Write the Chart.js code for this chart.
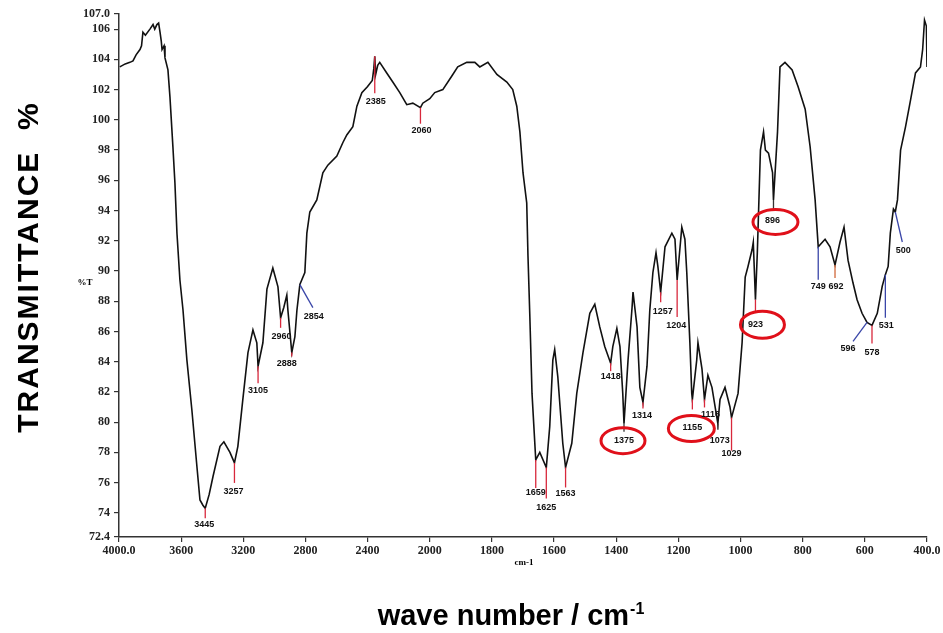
<!DOCTYPE html>
<html><head><meta charset="utf-8">
<script src="https://cdn.jsdelivr.net/npm/chart.js@4.4.1/dist/chart.umd.min.js"></script>
<style>html,body{margin:0;padding:0;background:#fff;}</style>
</head><body>
<canvas id="c" width="943" height="633"></canvas>
<script>
// ---- data ----
const wavenumbers = [3995,3960,3930,3910,3890,3865,3855,3846,3830,3801,3781,3770,3756,3745,3736,3728,3723,3710,3704,3685,3672,3653,3640,3627,3608,3588,3563,3531,3498,3479,3460,3445,3420,3395,3350,3325,3286,3257,3235,3203,3170,3138,3113,3105,3074,3048,3010,2977,2960,2939,2920,2913,2888,2868,2855,2836,2804,2791,2772,2727,2688,2656,2598,2559,2534,2495,2469,2437,2400,2370,2360,2354,2348,2335,2322,2277,2238,2193,2148,2109,2060,2045,2000,1984,1958,1929,1910,1881,1855,1839,1813,1784,1752,1733,1720,1710,1700,1688,1684,1678,1671,1659,1646,1625,1614,1604,1598,1588,1572,1563,1543,1527,1507,1485,1469,1453,1437,1418,1411,1398,1388,1379,1375,1362,1349,1346,1333,1324,1314,1301,1292,1282,1272,1266,1257,1243,1221,1211,1204,1189,1179,1173,1163,1157,1155,1141,1137,1124,1116,1105,1092,1073,1066,1050,1034,1029,1008,995,985,976,963,959,952,946,936,926,920,910,897,894,881,873,857,834,815,792,776,760,750,728,712,696,680,667,654,638,625,609,593,577,560,544,534,525,518,508,502,495,485,469,453,437,421,414,408,402,400];
const transmittance = [103.5,103.7,103.8,103.9,104.3,104.65,104.9,105.8,105.6,106.0,106.3,106.0,106.3,106.4,105.8,105.2,104.65,104.9,104.1,103.3,101.5,98.2,95.8,92.5,89.4,87.4,84.1,80.8,77.0,74.85,74.5,74.3,75.2,76.4,78.4,78.7,78.0,77.3,78.4,81.5,84.6,86.1,85.25,83.7,85.25,88.8,90.2,88.95,86.9,87.6,88.4,87.4,84.6,85.65,87.4,89.1,89.9,92.5,93.9,94.7,96.5,97.0,97.6,98.5,99.0,99.55,100.9,101.8,102.2,102.6,103.4,104.2,103.0,103.6,103.8,103.1,102.5,101.8,101.0,101.1,100.8,101.1,101.4,101.8,102.0,102.9,103.5,103.8,103.8,103.5,103.8,103.0,102.5,102.0,100.9,99.2,96.5,94.5,91.0,87.0,81.9,77.5,78.0,77.0,79.7,84.1,84.8,83.0,78.6,77.0,78.6,81.9,84.6,87.2,87.8,86.3,85.0,83.9,85.0,86.2,85.0,81.9,79.9,84.1,87.6,88.6,86.3,82.3,81.3,83.7,87.4,89.9,91.2,90.3,88.6,91.6,92.5,92.1,89.4,92.9,92.1,89.9,85.25,81.9,81.5,84.1,85.25,83.5,81.5,83.1,82.3,79.9,81.5,82.3,81.0,80.3,81.9,85.25,89.6,90.3,91.4,91.9,88.1,91.2,98.0,99.2,98.0,97.8,96.5,94.7,99.2,103.5,103.8,103.3,102.2,100.7,98.2,94.7,91.6,92.1,91.6,90.4,91.9,92.9,90.7,89.2,88.1,87.2,86.6,86.4,87.2,89.0,89.75,90.3,92.5,94.1,93.9,94.7,98.0,99.55,101.3,103.1,103.5,104.65,106.6,106.2,103.5];

const xTickValues = [4000,3600,3200,2800,2400,2000,1800,1600,1400,1200,1000,800,600,400];
const xTickLabels = ["4000.0","3600","3200","2800","2400","2000","1800","1600","1400","1200","1000","800","600","400.0"];
const yTickValues = [72.4,74,76,78,80,82,84,86,88,90,92,94,96,98,100,102,104,106,107];
const yTickLabels = ["72.4","74","76","78","80","82","84","86","88","90","92","94","96","98","100","102","104","106","107.0"];

const peakLabels = ["3445","3257","3105","2960","2888","2854","2385","2060","1659","1625","1563","1418","1375","1314","1257","1204","1155","1116","1073","1029","923","896","749","692","596","578","531","500"];
const peakW = [3445,3257,3105,2960,2888,2836,2354,2060,1659,1625,1563,1418,1375,1314,1257,1204,1155,1116,1073,1029,952,894,750,696,593,577,534,502];
const peakT = [74.3,77.3,83.7,86.9,84.6,89.1,104.2,100.8,77.5,77.0,77.0,83.9,79.9,81.3,88.6,89.4,81.5,81.5,79.9,80.3,88.1,94.7,91.6,90.4,86.6,86.4,89.75,93.9];

// ---- styling of peak marks (pixel offsets from the peak tip) ----
const RED = "#d8283c", BLUE = "#3a46a8", ORANGE = "#d0683a", DARK = "#333";
const peakStyle = [
  {lx:0,ly:10,tx:-1,ty:16,c:RED},
  {lx:0,ly:20,tx:-1,ty:29,c:RED},
  {lx:0,ly:17,tx:0,ty:24,c:RED},
  {lx:0,ly:10,tx:1,ty:19,c:RED},
  {lx:0,ly:4,tx:-5,ty:11,c:RED},
  {lx:13,ly:23,tx:14,ty:32,c:BLUE},
  {lx:0,ly:37,tx:1,ty:45,c:RED},
  {lx:0,ly:16,tx:1,ty:23,c:RED},
  {lx:0,ly:28,tx:0,ty:33,c:RED},
  {lx:0,ly:31,tx:0,ty:40,c:RED},
  {lx:0,ly:20,tx:0,ty:26,c:RED},
  {lx:0,ly:8,tx:0,ty:13,c:RED},
  {lx:0,ly:8,tx:0,ty:17,c:DARK,e:[-1,17,44,26]},
  {lx:0,ly:6,tx:-1,ty:13,c:RED},
  {lx:0,ly:10,tx:2,ty:19,c:RED},
  {lx:0,ly:37,tx:-1,ty:45,c:RED},
  {lx:0,ly:10,tx:0,ty:28,c:RED,e:[-1,29,46,26]},
  {lx:0,ly:8,tx:6,ty:15,c:RED},
  {lx:0,ly:6,tx:2,ty:17,c:DARK},
  {lx:0,ly:33,tx:0,ty:36,c:RED},
  {lx:0,ly:12,tx:0,ty:25,c:RED,e:[7,25,44,27]},
  {lx:0,ly:9,tx:-1,ty:21,c:DARK,e:[2,22,45,25]},
  {lx:0,ly:33,tx:0,ty:40,c:BLUE},
  {lx:0,ly:13,tx:1,ty:22,c:ORANGE},
  {lx:-14,ly:19,tx:-19,ty:26,c:BLUE},
  {lx:0,ly:18,tx:0,ty:27,c:RED},
  {lx:0,ly:43,tx:1,ty:51,c:BLUE},
  {lx:7,ly:30,tx:8,ty:39,c:BLUE}
];

// piecewise wavenumber axis: 4000-2000 compressed, 2000-400 at double scale
function toAxis(w){ return w >= 2000 ? (4000 - w) : 2000 + 2 * (2000 - w); }

const peakPlugin = {
  id: 'peaks',
  afterDatasetsDraw(chart){
    const ctx = chart.ctx, xs = chart.scales.x, ys = chart.scales.y;
    ctx.save();
    ctx.font = 'bold 9px "Liberation Sans"';
    ctx.textAlign = 'center';
    ctx.textBaseline = 'middle';
    peakLabels.forEach((lab, i) => {
      const s = peakStyle[i];
      const px = xs.getPixelForValue(toAxis(peakW[i]));
      const py = ys.getPixelForValue(peakT[i]);
      ctx.strokeStyle = s.c; ctx.lineWidth = 1.3;
      ctx.beginPath(); ctx.moveTo(px, py); ctx.lineTo(px + s.lx, py + s.ly); ctx.stroke();
      ctx.fillStyle = '#111';
      ctx.fillText(lab, px + s.tx, py + s.ty);
      if (s.e){
        ctx.strokeStyle = '#e0101a'; ctx.lineWidth = 3;
        ctx.beginPath();
        ctx.ellipse(px + s.e[0], py + s.e[1], s.e[2]/2, s.e[3]/2, 0, 0, Math.PI*2);
        ctx.stroke();
      }
    });
    ctx.restore();
  },
  afterDraw(chart){
    const ctx = chart.ctx, a = chart.chartArea;
    ctx.save();
    ctx.fillStyle = '#000';
    // y title
    ctx.save();
    ctx.translate(38, 267);
    ctx.rotate(-Math.PI/2);
    ctx.font = 'bold 30px "Liberation Sans"';
    try { ctx.letterSpacing = '2px'; } catch(e){}
    ctx.textAlign = 'center';
    ctx.textBaseline = 'alphabetic';
    ctx.fillText('TRANSMITTANCE  %', 0, 0);
    ctx.restore();
    // x title
    ctx.font = 'bold 29px "Liberation Sans"';
    ctx.textBaseline = 'alphabetic';
    ctx.textAlign = 'left';
    const main = 'wave number / cm', sup = '-1';
    const wMain = ctx.measureText(main).width;
    ctx.font = 'bold 16px "Liberation Sans"';
    const wSup = ctx.measureText(sup).width;
    const x0 = 511 - (wMain + wSup + 1)/2;
    ctx.font = 'bold 29px "Liberation Sans"';
    ctx.fillText(main, x0, 625);
    ctx.font = 'bold 16px "Liberation Sans"';
    ctx.fillText(sup, x0 + wMain + 1, 614);
    // small labels
    ctx.font = 'bold 9px "Liberation Serif"';
    ctx.textAlign = 'center';
    ctx.textBaseline = 'middle';
    ctx.fillText('%T', a.left - 34, 283);
    ctx.fillText('cm-1', 524, 563);
    ctx.restore();
  }
};

const tickFont = {family: '"Liberation Serif"', size: 12, weight: 'bold'};

new Chart(document.getElementById('c'), {
  type: 'line',
  data: {
    datasets: [{
      data: wavenumbers.map((w, i) => ({x: toAxis(w), y: transmittance[i]})),
      borderColor: '#111',
      borderWidth: 1.6,
      pointRadius: 0,
      tension: 0,
      fill: false
    }]
  },
  options: {
    responsive: false,
    animation: false,
    events: [],
    layout: {padding: {top: 14, right: 16, left: 0, bottom: 0}},
    plugins: {legend: {display: false}, tooltip: {enabled: false}},
    scales: {
      x: {
        type: 'linear', min: 0, max: 5200,
        afterBuildTicks: s => { s.ticks = xTickValues.map(w => ({value: toAxis(w)})); },
        afterFit: s => { s.height = 96; },
        ticks: {autoSkip: false, maxRotation: 0, minRotation: 0, padding: 2, color: '#222', font: tickFont,
                callback: (v, i) => xTickLabels[i]},
        grid: {display: true, drawOnChartArea: false, drawTicks: true, tickLength: 5, color: '#333', lineWidth: 1.2},
        border: {display: true, color: '#333', width: 1.5}
      },
      y: {
        type: 'linear', min: 72.4, max: 107,
        afterBuildTicks: s => { s.ticks = yTickValues.map(v => ({value: v})); },
        afterFit: s => { s.width = 119; },
        ticks: {autoSkip: false, padding: 4, color: '#222', font: tickFont,
                callback: (v, i) => yTickLabels[i]},
        grid: {display: true, drawOnChartArea: false, drawTicks: true, tickLength: 5, color: '#333', lineWidth: 1.2},
        border: {display: true, color: '#333', width: 1.5}
      }
    }
  },
  plugins: [peakPlugin]
});
</script>
</body></html>
